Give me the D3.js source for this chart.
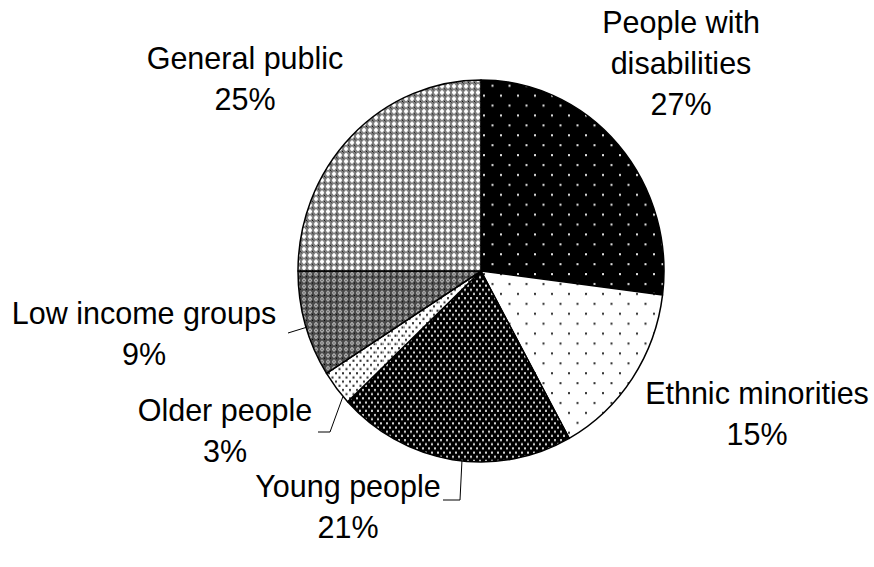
<!DOCTYPE html>
<html><head><meta charset="utf-8">
<script src="https://cdn.jsdelivr.net/npm/d3@7"></script>
<style>body{margin:0;background:#fff}</style>
</head><body>
<svg id="c" width="874" height="567"></svg>
<script>
const categories = ["People with disabilities","Ethnic minorities","Young people","Older people","Low income groups","General public"];
const values = [27, 15, 21, 3, 9, 25];
const labelLines = [["People with","disabilities","27%"],["Ethnic minorities","15%"],["Young people","21%"],["Older people","3%"],["Low income groups","9%"],["General public","25%"]];
const patternIds = ["pDis","pEth","pYoung","pOld","pLow","pGen"];

const W=874,H=567, cx=481, cy=271, RX=183, RY=191;
const svg=d3.select("#c");
const defs=svg.append("defs");

function dotPattern(id,w,h,bg,dot,pts,s){
  const p=defs.append("pattern").attr("id",id).attr("patternUnits","userSpaceOnUse").attr("width",w).attr("height",h);
  p.append("rect").attr("width",w).attr("height",h).attr("fill",bg);
  pts.forEach(([x,y])=>p.append("rect").attr("x",x).attr("y",y).attr("width",s).attr("height",s).attr("fill",dot));
}
dotPattern("pDis",17,19,"#000","#e0e0e0",[[2,2],[10.5,11.5]],2);
dotPattern("pEth",17,19,"#fff","#333",[[2,2],[10.5,11.5]],2);
dotPattern("pYoung",6,8,"#000","#d8d8d8",[[1,1],[4,5]],2);
dotPattern("pOld",7,8,"#fff","#333",[[1,1],[4.5,5]],2);
(function(){
  const p=defs.append("pattern").attr("id","pGen").attr("patternUnits","userSpaceOnUse").attr("width",6).attr("height",6);
  p.append("rect").attr("width",6).attr("height",6).attr("fill","#808080");
  p.append("rect").attr("x",2).attr("y",1).attr("width",2).attr("height",4).attr("fill","#fff");
  p.append("rect").attr("x",1).attr("y",2).attr("width",4).attr("height",2).attr("fill","#fff");
  p.append("rect").attr("x",5).attr("y",5).attr("width",1).attr("height",1).attr("fill","#111");
  p.append("rect").attr("x",0).attr("y",0).attr("width",1).attr("height",1).attr("fill","#444");
  const q=defs.append("pattern").attr("id","pLow").attr("patternUnits","userSpaceOnUse").attr("width",6).attr("height",6);
  q.append("rect").attr("width",6).attr("height",6).attr("fill","#4a4a4a");
  q.append("rect").attr("x",2).attr("y",1).attr("width",2).attr("height",4).attr("fill","#b0b0b0");
  q.append("rect").attr("x",1).attr("y",2).attr("width",4).attr("height",2).attr("fill","#b0b0b0");
  q.append("rect").attr("x",2.5).attr("y",2.5).attr("width",1).attr("height",1).attr("fill","#222");
  q.append("rect").attr("x",5).attr("y",5).attr("width",1).attr("height",1).attr("fill","#000");
})();

const data=categories.map((c,i)=>({name:c,value:values[i],pat:patternIds[i],lines:labelLines[i]}));
const pie=d3.pie().value(d=>d.value).sort(null);
const arcs=pie(data);
const arc=d3.arc().innerRadius(0).outerRadius(RX);
const g=svg.append("g").attr("transform",`translate(${cx},${cy}) scale(1,${RY/RX})`);
g.selectAll("path").data(arcs).join("path")
  .attr("d",arc).attr("fill",d=>`url(#${d.data.pat})`)
  .attr("stroke","#000").attr("stroke-width",1.5).attr("stroke-linejoin","round")
  .attr("vector-effect","non-scaling-stroke");

const labelPos={
 "People with disabilities":[681,33],
 "Ethnic minorities":[757,404],
 "Young people":[348,497],
 "Older people":[225,421],
 "Low income groups":[144,324],
 "General public":[245,69]
};
const lineH=41;
arcs.forEach(a=>{
  const [x,y]=labelPos[a.data.name];
  const t=svg.append("text").attr("x",x).attr("y",y).attr("text-anchor","middle")
    .attr("font-family","Liberation Sans, Arial, sans-serif").attr("font-size",30.5).attr("fill","#000");
  a.data.lines.forEach((l,i)=>t.append("tspan").attr("x",x).attr("y",y+i*lineH).text(l));
});

function edgePt(a,f){const m=a.startAngle+(a.endAngle-a.startAngle)*f;return [cx+RX*Math.sin(m),cy-RY*Math.cos(m)];}
const leaders=[
  {name:"Low income groups",from:[288,333],mid:null,f:0.47},
  {name:"Older people",from:[318,432],mid:[330,432],f:0.2},
  {name:"Young people",from:[443,500],mid:[460,500],f:0.46}
];
leaders.forEach(L=>{
  const a=arcs.find(d=>d.data.name===L.name);
  const e=edgePt(a,L.f);
  const pts=[L.from]; if(L.mid) pts.push(L.mid); pts.push(e);
  svg.append("path").attr("d",d3.line()(pts)).attr("fill","none").attr("stroke","#000").attr("stroke-width",1);
});
</script>
</body></html>
